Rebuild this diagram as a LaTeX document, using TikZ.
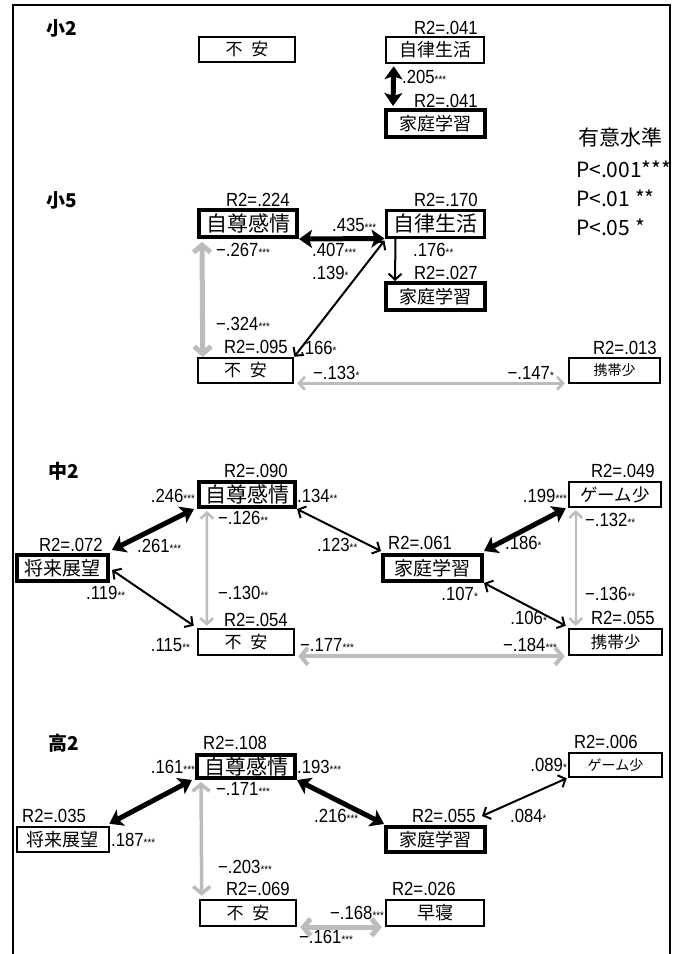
\documentclass[tikz,border=0pt]{standalone}
\usepackage{fontspec}
\setmainfont{Liberation Sans}[FakeStretch=0.88]
\newfontfamily\jp{Noto Sans CJK JP}
\usetikzlibrary{arrows.meta}
\definecolor{lg}{RGB}{188,188,188}
\newcommand\fs[1]{\fontsize{#1}{#1}\selectfont}
\newcommand\mystar[1]{{\fs{11}#1}}
\tikzset{
  bx/.style={draw, line width=2pt, inner sep=0pt, font=\jp\fs{17}},
  bxk/.style={bx, line width=4pt},
  lab/.style={inner sep=0pt, font=\fs{19}},
  tk/.style={line width=5pt, {Stealth[length=13pt,width=18pt,inset=3pt]}-{Stealth[length=13pt,width=18pt,inset=3pt]}},
  tn/.style={line width=2pt, {Straight Barb[length=6pt,width=13pt]}-{Straight Barb[length=6pt,width=13pt]}},
  tn1/.style={line width=2pt, -{Straight Barb[length=6pt,width=13pt]}},
  gk/.style={draw=lg, line width=5pt, {Straight Barb[length=7pt,width=17pt]}-{Straight Barb[length=7pt,width=17pt]}},
  gn/.style={draw=lg, line width=2.5pt, {Straight Barb[length=6pt,width=13pt]}-{Straight Barb[length=6pt,width=13pt]}},
  ttl/.style={inner sep=0pt, anchor=west, font=\jp\bfseries\fs{19}},
  leg/.style={inner sep=0pt, anchor=west, font=\jp\fs{21}}
}
\begin{document}
\begin{tikzpicture}[x=1pt,y=-1pt]
\useasboundingbox (0,0) rectangle (679,954);
\fill[white] (0,0) rectangle (679,954);
% frame
\draw[line width=2.5pt] (13,960) -- (13,5) -- (670,5) -- (670,960);

% ---------- 小2 ----------
\node[ttl] (t1) at (46,28) {小2};
\node[bx, minimum width=96pt, minimum height=25pt] (A1) at (247,49.5) {不\hspace{9pt}安};
\node[bx, line width=2.5pt, minimum width=98pt, minimum height=26pt, font=\jp\fs{18}] (A2) at (435,50) {自律生活};
\node[bxk, minimum width=99pt, minimum height=27pt, font=\jp\fs{18}] (A3) at (435.5,123.5) {家庭学習};
\node[lab, anchor=east] (a1) at (478,28) {R2=.041};
\node[lab, anchor=west] (a2) at (402,77) {.205\mystar{***}};
\node[lab, anchor=east] (a3) at (478,101) {R2=.041};
\draw[tk] ([xshift=9pt,yshift=-2pt]A2.south west) -- ([xshift=9pt,yshift=2pt]A3.north west);

% legend
\node[leg, font=\jp\fs{21}] (g0) at (578,137) {有意水準};
\node[leg] (g1) at (576,169) {P<.001***};
\node[leg] (g2) at (576,198) {P<.01 **};
\node[leg] (g3) at (576,227) {P<.05 *};

% ---------- 小5 ----------
\node[ttl] (t2) at (46,200) {小5};
\node[bxk, minimum width=98pt, minimum height=27pt, font=\jp\fs{21}] (B1) at (248,223.5) {自尊感情};
\node[bx, line width=3pt, minimum width=98pt, minimum height=27pt, font=\jp\fs{21}] (B2) at (435,223.5) {自律生活};
\node[bxk, minimum width=99pt, minimum height=27pt, font=\jp\fs{18}] (B3) at (435.5,296.5) {家庭学習};
\node[bx, line width=2.5pt, minimum width=95pt, minimum height=25pt] (B4) at (245.5,370.5) {不\hspace{9pt}安};
\node[bx, line width=2.5pt, minimum width=91pt, minimum height=25pt, font=\jp\fs{14}] (B5) at (614.5,370.5) {携帯少};
\node[lab, anchor=east] (b1) at (290,200) {R2=.224};
\node[lab, anchor=east] (b2) at (478,200) {R2=.170};
\node[lab, anchor=west] (b3) at (332,225) {.435\mystar{***}};
\node[lab, anchor=west] (b4) at (216,250) {−.267\mystar{***}};
\node[lab, anchor=west] (b5) at (312,250) {.407\mystar{***}};
\node[lab, anchor=west] (b6) at (413,250) {.176\mystar{**}};
\node[lab, anchor=west] (b7) at (312,273) {.139\mystar{*}};
\node[lab, anchor=east] (b8) at (478,273) {R2=.027};
\node[lab, anchor=west] (b9) at (216,324) {−.324\mystar{***}};
\node[lab, anchor=east] (b10) at (288,347) {R2=.095};
\node[lab, anchor=west] (b11) at (300,348) {.166\mystar{*}};
\node[lab, anchor=east] (b12) at (657,348) {R2=.013};
\node[lab, anchor=west] (b13) at (313,373) {−.133\mystar{*}};
\node[lab, anchor=east] (b14) at (554,373) {−.147\mystar{*}};
\draw[tk] (B1.south east) -- (B2.south west);
\draw[tn1] ([xshift=11pt]B2.south west) -- ([xshift=11pt]B3.north west);
\draw[tn] (B4.north east) -- ([yshift=-2pt]B2.south west);
\draw[gk] ([xshift=5pt,yshift=-3pt]B1.south west) -- ([xshift=6pt]B4.north west);
\draw[gn] ([xshift=3pt,yshift=1pt]B4.south east) -- ([xshift=-3pt,yshift=1pt]B5.south west);

% ---------- 中2 ----------
\node[ttl] (t3) at (48,471) {中2};
\node[bxk, minimum width=96pt, minimum height=25pt, font=\jp\fs{21}] (C1) at (247,494.5) {自尊感情};
\node[bxk, minimum width=91pt, minimum height=26pt, font=\jp\fs{19}] (C2) at (62.5,568) {将来展望};
\node[bxk, minimum width=99pt, minimum height=26pt, font=\jp\fs{19}] (C3) at (432.5,568) {家庭学習};
\node[bx, line width=2.5pt, minimum width=92pt, minimum height=25pt, font=\jp\fs{17.5}] (C4) at (615,494.5) {ゲーム少};
\node[bx, line width=2.5pt, minimum width=96pt, minimum height=26pt] (C5) at (246,642) {不\hspace{9pt}安};
\node[bx, line width=2.5pt, minimum width=93pt, minimum height=26pt, font=\jp\fs{16.5}] (C6) at (615.5,642) {携帯少};
\node[lab, anchor=east] (c1) at (288,471) {R2=.090};
\node[lab, anchor=east] (c2) at (195,496) {.246\mystar{***}};
\node[lab, anchor=west] (c3) at (297,496) {.134\mystar{**}};
\node[lab, anchor=west] (c4) at (218,518) {−.126\mystar{**}};
\node[lab, anchor=east] (c5) at (103,545) {R2=.072};
\node[lab, anchor=west] (c6) at (137,546) {.261\mystar{***}};
\node[lab, anchor=west] (c7) at (317,545) {.123\mystar{**}};
\node[lab, anchor=west] (c8) at (388,543) {R2=.061};
\node[lab, anchor=west] (c9) at (505,543) {.186\mystar{*}};
\node[lab, anchor=east] (c10) at (655,471) {R2=.049};
\node[lab, anchor=east] (c11) at (567,496) {.199\mystar{***}};
\node[lab, anchor=west] (c12) at (585,520) {−.132\mystar{**}};
\node[lab, anchor=west] (c13) at (86,593) {.119\mystar{**}};
\node[lab, anchor=west] (c14) at (218,593) {−.130\mystar{**}};
\node[lab, anchor=east] (c15) at (478,594) {.107\mystar{*}};
\node[lab, anchor=west] (c16) at (585,594) {−.136\mystar{**}};
\node[lab, anchor=east] (c17) at (288,620) {R2=.054};
\node[lab, anchor=east] (c18) at (547,618) {.106\mystar{*}};
\node[lab, anchor=east] (c19) at (655,618) {R2=.055};
\node[lab, anchor=east] (c20) at (190,645) {.115\mystar{**}};
\node[lab, anchor=west] (c21) at (300,645) {−.177\mystar{***}};
\node[lab, anchor=east] (c22) at (557,645) {−.184\mystar{***}};
\draw[tk] ([xshift=-3pt]C1.south west) -- ([xshift=2pt,yshift=3pt]C2.north east);
\draw[tn] (C1.south east) -- ([yshift=2pt]C3.north west);
\draw[tn] ([xshift=2pt,yshift=-2pt]C2.east) -- ([xshift=-3pt,yshift=2pt]C5.north west);
\draw[gn] ([xshift=10pt,yshift=-2pt]C1.south west) -- ([xshift=10pt,yshift=2pt]C5.north west);
\draw[tk] ([xshift=-2pt]C4.south west) -- ([yshift=2pt]C3.north east);
\draw[tn] (C3.south east) -- ([xshift=-2pt,yshift=2pt]C6.north west);
\draw[gn] ([xshift=8pt,yshift=-2pt]C4.south west) -- ([xshift=8pt,yshift=2pt]C6.north west);
\draw[gk, line width=4pt] ([xshift=3pt]C5.south east) -- ([xshift=-3pt]C6.south west);

% ---------- 高2 ----------
\node[ttl] (t4) at (48,743) {高2};
\node[bxk, minimum width=98pt, minimum height=23pt, font=\jp\fs{21}] (D1) at (246,766.5) {自尊感情};
\node[bx, line width=2.5pt, minimum width=92pt, minimum height=25pt, font=\jp\fs{18}] (D2) at (63,839.5) {将来展望};
\node[bxk, minimum width=99pt, minimum height=25pt, font=\jp\fs{18}] (D3) at (435.5,839.5) {家庭学習};
\node[bx, line width=2.5pt, minimum width=93pt, minimum height=24pt, font=\jp\fs{14}] (D4) at (615.5,765) {ゲーム少};
\node[bx, line width=2.5pt, minimum width=96pt, minimum height=26pt] (D5) at (248,913) {不\hspace{9pt}安};
\node[bx, line width=2.5pt, minimum width=98pt, minimum height=26pt, font=\jp\fs{18}] (D6) at (435,913) {早寝};
\node[lab, anchor=west] (d1) at (203,743) {R2=.108};
\node[lab, anchor=east] (d2) at (195,767) {.161\mystar{***}};
\node[lab, anchor=west] (d3) at (297,767) {.193\mystar{***}};
\node[lab, anchor=west] (d4) at (216,789) {−.171\mystar{***}};
\node[lab, anchor=east] (d5) at (638,742) {R2=.006};
\node[lab, anchor=east] (d6) at (567,765) {.089\mystar{*}};
\node[lab, anchor=west] (d7) at (22,816) {R2=.035};
\node[lab, anchor=west] (d8) at (314,816) {.216\mystar{***}};
\node[lab, anchor=east] (d9) at (476,816) {R2=.055};
\node[lab, anchor=west] (d10) at (510,816) {.084\mystar{*}};
\node[lab, anchor=west] (d11) at (111,840) {.187\mystar{***}};
\node[lab, anchor=west] (d12) at (218,867) {−.203\mystar{***}};
\node[lab, anchor=east] (d13) at (290,889) {R2=.069};
\node[lab, anchor=east] (d14) at (456,889) {R2=.026};
\node[lab, anchor=east] (d15) at (384,913) {−.168\mystar{***}};
\node[lab, anchor=west] (d16) at (299,937) {−.161\mystar{***}};
\draw[tk] ([xshift=-3pt]D1.south west) -- ([xshift=-1pt,yshift=2pt]D2.north east);
\draw[gk, line width=3.5pt] ([xshift=6pt,yshift=-2pt]D1.south west) -- ([xshift=3pt,yshift=3pt]D5.north west);
\draw[tk] (D1.south east) -- ([yshift=1pt]D3.north west);
\draw[tn] ([xshift=-1pt]D4.south west) -- ([xshift=-5pt,yshift=9pt]D3.north east);
\draw[gk] ([xshift=3pt]D5.south east) -- ([xshift=-3pt]D6.south west);
\end{tikzpicture}
\end{document}
